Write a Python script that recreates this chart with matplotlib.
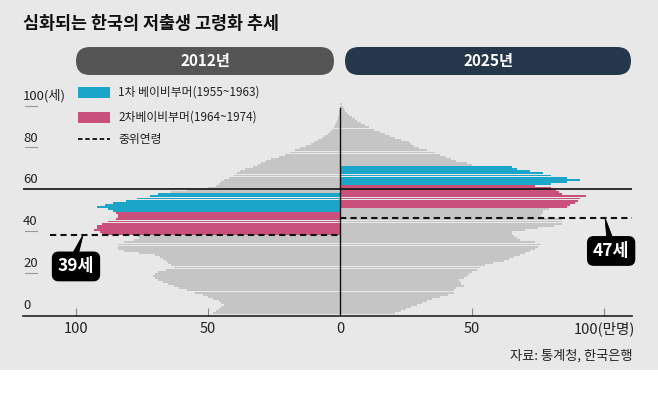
import matplotlib
matplotlib.use('Agg')
import matplotlib.pyplot as plt
from matplotlib.patches import Rectangle, FancyBboxPatch, Polygon
import matplotlib.transforms as mtransforms
import numpy as np

plt.rcParams['font.family'] = ['Noto Sans CJK KR', 'DejaVu Sans']

# ---------------- data ----------------
title = "심화되는 한국의 저출생 고령화 추세"
years = [2012, 2025]
year_labels = ["2012년", "2025년"]
ages = list(range(0, 101))

# population by single age, 만명 (10,000 persons)
pop_2012 = [
    48, 47, 46, 45, 44, 45, 46, 48, 50, 52,          # 0-9
    55, 58, 61, 63, 65, 67, 69, 70, 71, 70,          # 10-19
    69, 66, 63, 64, 65, 66, 67, 68, 70, 76,          # 20-29
    82, 84, 84, 84, 82, 78, 76, 77, 90, 91,          # 30-39
    93, 92, 92, 90, 88, 85, 84, 84, 85, 86,          # 40-49
    88, 92, 89, 86, 81, 77, 72, 69, 64, 58,          # 50-59
    50, 47, 46, 45, 44, 42, 40, 39, 38, 36,          # 60-69
    33, 31, 30, 28, 26, 23, 21, 19, 17, 15,          # 70-79
    13, 11, 10, 8.5, 7, 5.5, 4.5, 3.8, 3, 2.4,       # 80-89
    1.8, 1.4, 1.1, 0.8, 0.6, 0.4, 0.3, 0.2, 0.15, 0.1, 0.1,  # 90-100
]
pop_2025 = [
    21, 23, 25, 27, 29, 31, 33, 35, 38, 41,          # 0-9
    43, 43, 44, 47, 46, 46, 45, 47, 48, 49,          # 10-19
    50, 52, 53, 55, 58, 62, 64, 66, 68, 70,          # 20-29
    72, 74, 75, 76, 74, 68, 67, 66, 65, 65,          # 30-39
    70, 75, 81, 84, 84, 84, 76, 76, 77, 77,          # 40-49
    79, 86, 87, 89, 90, 91, 93, 84, 83, 82,          # 50-59
    80, 74, 80, 86, 91, 86, 80, 77, 72, 67,          # 60-69
    65, 50, 48, 44, 42, 40, 38, 36, 33, 30,          # 70-79
    28, 27, 26, 23, 21, 19, 17, 15, 13, 11,          # 80-89
    9.5, 8, 6.5, 5.5, 4.5, 3.5, 2.6, 2, 1.5, 1, 0.7, # 90-100
]
median_age = [39, 47]

cohort_labels = ["1차 베이비부머(1955~1963)", "2차베이비부머(1964~1974)"]
cohort_start = [1955, 1964]
cohort_end = [1963, 1974]
median_label = "중위연령"

xtick_values = [-100, -50, 0, 50, 100]
xtick_labels = ["100", "50", "0", "50", "100(만명)"]
ytick_values = [0, 20, 40, 60, 80, 100]
ytick_labels = ["0", "20", "40", "60", "80", "100(세)"]
reference_age = 60
source = "자료: 통계청, 한국은행"

# ---------------- style ----------------
W, H = 658, 399
BG = '#e8e8e8'
GRAY = '#c5c5c5'
CYAN = '#1aa5c9'
PINK = '#c9507b'
PILL_COLORS = ['#555555', '#24374b']
cohort_colors = [CYAN, PINK]


def bar_colors(year):
    cols = []
    for a in ages:
        by = year - a
        c = GRAY
        for s, e, col in zip(cohort_start, cohort_end, cohort_colors):
            if s <= by <= e:
                c = col
        cols.append(c)
    return cols


fig = plt.figure(figsize=(W / 100, H / 100), dpi=100)
fig.patch.set_facecolor('white')

bg = fig.add_axes([0, 0, 1, 1], zorder=0)
bg.set_xlim(0, W)
bg.set_ylim(H, 0)
bg.set_axis_off()
bg.add_patch(Rectangle((0, 0), W, 370, color=BG, lw=0))

# main axes (pixel geometry: x 23..632, y 80..316)
ax_l, ax_r, ax_t, ax_b = 23, 632, 80, 316
ax = fig.add_axes([ax_l / W, (H - ax_b) / H, (ax_r - ax_l) / W, (ax_b - ax_t) / H], zorder=1)
ax.patch.set_alpha(0)
px_per_unit = 2.64
px_per_age = 2.09
age0_px = 314.5
ax.set_xlim((ax_l - 340) / px_per_unit, (ax_r - 340) / px_per_unit)
ax.set_ylim((age0_px - ax_b) / px_per_age, (age0_px - ax_t) / px_per_age)

yc = np.array(ages) + 0.5
ax.barh(yc, -np.array(pop_2012), height=0.93, color=bar_colors(years[0]), lw=0, zorder=2)
ax.barh(yc, np.array(pop_2025), height=0.93, color=bar_colors(years[1]), lw=0, zorder=2)

for s in ['left', 'right', 'top']:
    ax.spines[s].set_visible(False)
ax.spines['bottom'].set_color('#222222')
ax.spines['bottom'].set_linewidth(1.2)
ax.set_yticks([])
ax.set_xticks(xtick_values)
ax.set_xticklabels(xtick_labels, fontsize=10.5, color='#222222')
ax.tick_params(axis='x', direction='in', length=6, width=0.8, color='#888888', pad=4)

# center line
ax.plot([0, 0], [ax.get_ylim()[0], 99], color='#111111', lw=1.0, zorder=4)
# reference line at 60
ax.axhline(reference_age, color='#111111', lw=1.2, zorder=4)

# y labels with short tick marks
blend = mtransforms.blended_transform_factory(ax.transAxes, ax.transData)
tick_w = 12 / (ax_r - ax_l)
for v, lab in zip(ytick_values, ytick_labels):
    if v != reference_age and v != 0:
        ax.plot([0.003, 0.003 + tick_w], [v, v], transform=blend, color='#999999', lw=0.8, zorder=3)
    ax.text(0.0, v + 1.3, lab, transform=blend, ha='left', va='bottom',
            fontsize=9.5, color='#222222', zorder=5)

# median lines
dash = (0, (3, 2))
xmin, xmax = ax.get_xlim()
yl = median_age[0] - 0.8
yr = median_age[1] - 0.8
ax.plot([(50 - 340) / px_per_unit, 0], [yl, yl], color='#111111', lw=1.5, ls=dash, zorder=5)
ax.plot([0, xmax], [yr, yr], color='#111111', lw=1.5, ls=dash, zorder=5, clip_on=False)

# callouts
def callout(tip_x, tip_y, bx, by, text):
    ax.add_patch(Polygon([(tip_x, tip_y), (bx - 1.6, by + 5.5), (bx + 0.8, by + 5.5)],
                         closed=True, color='black', lw=0.6, zorder=6, clip_on=False))
    ax.text(bx, by, text, ha='center', va='center', fontsize=12.5, fontweight='bold',
            color='white', zorder=7, clip_on=False,
            bbox=dict(boxstyle='round,pad=0.3,rounding_size=0.35', fc='black', ec='black'))

callout(-97.3, yl, -100.0, 23.0, f"{median_age[0]}세")
callout(100.4, yr, 102.7, 30.4, f"{median_age[1]}세")

# overlay in pixel coordinates
ov = fig.add_axes([0, 0, 1, 1], zorder=3)
ov.set_xlim(0, W)
ov.set_ylim(H, 0)
ov.set_axis_off()

ov.text(23, 24, title, ha='left', va='center', fontsize=12.5, fontweight='bold', color='#111111')

pills = [(76, 334), (345, 631)]
for (x0, x1), lab, col in zip(pills, year_labels, PILL_COLORS):
    ov.add_patch(FancyBboxPatch((x0, 47), x1 - x0, 28,
                                boxstyle='round,pad=0,rounding_size=14', fc=col, ec='none'))
    ov.text((x0 + x1) / 2, 61, lab, ha='center', va='center', fontsize=11,
            fontweight='bold', color='white')

# legend
for i, (lab, col) in enumerate(zip(cohort_labels, cohort_colors)):
    y0 = 87 + i * 25
    ov.add_patch(Rectangle((78, y0), 32, 11, color=col, lw=0))
    ov.text(118, y0 + 5.5, lab, ha='left', va='center', fontsize=8.5, color='#222222')
ov.plot([78, 110], [139, 139], color='#111111', lw=1.3, ls=(0, (2.5, 1.5)))
ov.text(118, 139.5, median_label, ha='left', va='center', fontsize=8.5, color='#222222')

ov.text(632, 356, source, ha='right', va='center', fontsize=9.5, color='#222222')

fig.savefig('out.png', dpi=100, facecolor='white')
